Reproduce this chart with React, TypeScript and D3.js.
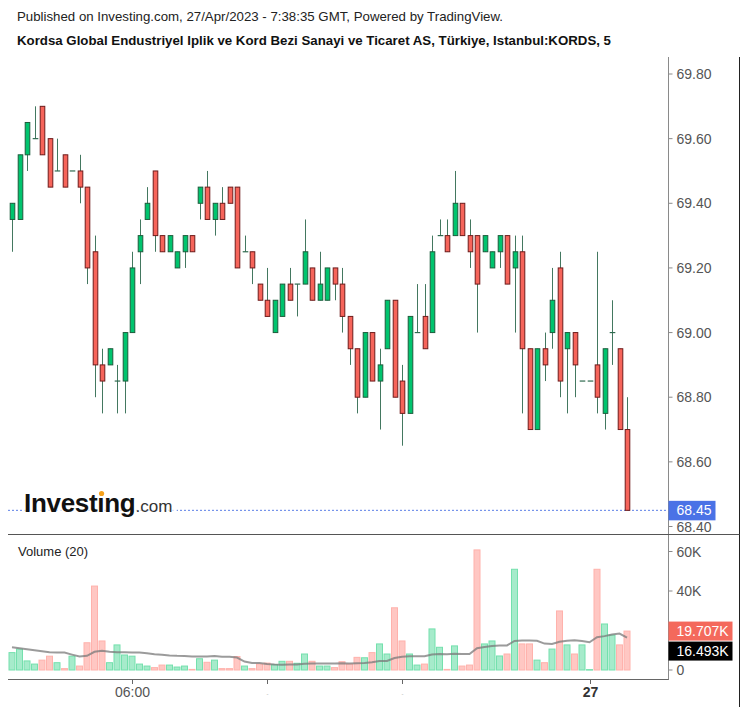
import React from 'react';
import * as d3 from 'd3';

// ---- Data (5-minute bars, KORDS) ----
const opens = [
  69.35, 69.35, 69.55, 69.60, 69.70, 69.60, 69.50, 69.55, 69.50, 69.50,
  69.45, 69.25, 68.90, 68.90, 68.85, 68.85, 69.00, 69.25, 69.35, 69.50,
  69.30, 69.25, 69.20, 69.25, 69.30, 69.40, 69.45, 69.35, 69.40, 69.45,
  69.45, 69.25, 69.25, 69.15, 69.10, 69.00, 69.05, 69.15, 69.15, 69.15,
  69.20, 69.10, 69.10, 69.20, 69.15, 69.05, 68.95, 68.80, 69.00, 68.85,
  68.95, 69.10, 68.85, 68.75, 69.00, 69.05, 69.00, 69.30, 69.30, 69.30,
  69.40, 69.30, 69.30, 69.25, 69.20, 69.25, 69.30, 69.20, 69.25, 68.95,
  68.70, 68.95, 69.00, 69.20, 68.95, 69.00, 68.85, 68.85, 68.90, 68.75,
  69.00, 68.95, 68.70,
];
const highs = [
  69.40, 69.55, 69.65, 69.70, 69.70, 69.60, 69.60, 69.55, 69.50, 69.55,
  69.45, 69.30, 68.95, 68.95, 68.90, 69.00, 69.25, 69.35, 69.45, 69.50,
  69.30, 69.30, 69.25, 69.30, 69.30, 69.45, 69.50, 69.40, 69.45, 69.45,
  69.45, 69.30, 69.25, 69.15, 69.20, 69.10, 69.15, 69.20, 69.15, 69.35,
  69.20, 69.25, 69.20, 69.20, 69.20, 69.05, 68.95, 69.00, 69.00, 68.95,
  69.10, 69.10, 68.90, 69.05, 69.15, 69.15, 69.30, 69.35, 69.35, 69.50,
  69.40, 69.35, 69.30, 69.30, 69.25, 69.30, 69.30, 69.30, 69.30, 68.95,
  68.95, 69.00, 69.20, 69.25, 69.00, 69.00, 68.85, 68.85, 69.25, 68.95,
  69.10, 68.95, 68.80,
];
const lows = [
  69.25, 69.35, 69.50, 69.60, 69.55, 69.45, 69.50, 69.45, 69.50, 69.40,
  69.15, 68.80, 68.75, 68.90, 68.75, 68.75, 69.00, 69.15, 69.35, 69.25,
  69.25, 69.25, 69.20, 69.20, 69.25, 69.35, 69.35, 69.30, 69.35, 69.40,
  69.20, 69.25, 69.15, 69.10, 69.05, 69.00, 69.05, 69.10, 69.05, 69.15,
  69.10, 69.10, 69.10, 69.10, 69.00, 68.90, 68.75, 68.80, 68.85, 68.70,
  68.95, 68.80, 68.65, 68.75, 69.00, 68.95, 69.00, 69.30, 69.25, 69.30,
  69.30, 69.20, 69.00, 69.25, 69.20, 69.20, 69.15, 69.00, 68.75, 68.70,
  68.70, 68.85, 68.95, 68.80, 68.75, 68.80, 68.85, 68.85, 68.75, 68.70,
  68.90, 68.70, 68.45,
];
const closes = [
  69.40, 69.55, 69.65, 69.60, 69.55, 69.45, 69.50, 69.45, 69.50, 69.45,
  69.20, 68.90, 68.85, 68.95, 68.85, 69.00, 69.20, 69.30, 69.40, 69.30,
  69.25, 69.30, 69.25, 69.30, 69.25, 69.45, 69.35, 69.40, 69.35, 69.40,
  69.20, 69.25, 69.20, 69.10, 69.05, 69.10, 69.15, 69.10, 69.15, 69.25,
  69.10, 69.15, 69.20, 69.15, 69.05, 68.95, 68.80, 69.00, 68.85, 68.90,
  69.10, 68.80, 68.75, 69.05, 69.00, 68.95, 69.25, 69.30, 69.25, 69.40,
  69.30, 69.25, 69.15, 69.30, 69.25, 69.30, 69.15, 69.25, 68.95, 68.70,
  68.95, 68.90, 69.10, 68.85, 69.00, 68.90, 68.85, 68.85, 68.80, 68.95,
  69.00, 68.70, 68.45,
];
// volume in thousands
const volumes = [
  8.8, 10.6, 4.6, 3.0, 5.0, 7.0, 3.7, 0.7, 7.0, 2.0,
  13.8, 42.5, 14.7, 3.7, 12.7, 7.6, 7.0, 3.0, 2.0, 1.2,
  2.5, 2.5, 1.5, 2.0, 0.3, 5.7, 3.9, 5.0, 0.7, 0.7,
  6.8, 2.0, 0.7, 3.0, 3.5, 2.7, 4.4, 4.4, 3.4, 8.1,
  4.4, 2.0, 2.0, 1.2, 4.2, 3.0, 6.4, 6.2, 8.8, 13.2,
  8.1, 31.5, 14.7, 8.1, 2.5, 3.0, 20.8, 11.5, 0.3, 12.2,
  2.0, 2.5, 60.8, 13.2, 14.7, 7.1, 8.1, 51.0, 13.2, 13.2,
  5.0, 3.7, 10.6, 29.9, 12.7, 8.1, 12.7, 0.2, 51.0, 23.3,
  17.7, 12.7, 19.707,
];
// MA(20) values of the first bars (they include bars before the visible range)
const volumeMaLead = [
  11.5, 11.0, 10.5, 10.0, 9.5, 9.0, 8.8, 8.8, 7.8, 6.8,
  7.2, 9.2, 9.8, 9.2, 9.0, 9.0, 8.9, 8.8, 8.5,
];
const maLastValue = 16.493;
const lastPrice = 68.45;
const priceTicks = [69.8, 69.6, 69.4, 69.2, 69.0, 68.8, 68.6, 68.4];
const volumeTicks = [0, 20, 40, 60];
const volumeTickLabels = ['0', '', '40K', '60K'];
const timeTickIndex = [16, 34, 52, 77];
const timeTickLabels = ['06:00', '-', '-', '27'];

const FONT = "'Liberation Sans', Arial, Helvetica, sans-serif";

export default function App() {
  const W = 747;
  const H = 707;
  const n = closes.length;
  const x = d3.scaleBand<number>().domain(d3.range(n)).range([8.25, 8.25 + n * 7.5]).padding(0);
  const cx = (i: number) => (x(i) as number) + x.bandwidth() / 2;
  const yP = d3.scaleLinear().domain([68.4, 69.8]).range([526.5, 74]);
  const yV = d3.scaleLinear().domain([0, 60]).range([670, 551.5]);

  const ma = volumes.map((_, i) =>
    i < volumeMaLead.length ? volumeMaLead[i] : (d3.mean(volumes.slice(i - 19, i + 1)) as number)
  );
  const maLine = d3.line<number>().x((_, i) => cx(i)).y((d) => yV(d))(ma) as string;

  const axisX = 668.5;
  const bodyW = 4.6;
  const volW = 6;

  const greenBody = '#00c46e';
  const greenBorder = '#1d5c3c';
  const redBody = '#f6645a';
  const redBorder = '#6e1c1c';
  const wick = '#2f6a4f';

  const lastY = yP(lastPrice);

  // logo metrics
  const logoSize = 26;
  const logoX = 24;
  const logoBase = 511.5;
  const iCenter = logoX + (2.89 + 0.139) * logoSize;

  return (
    <svg
      width={W}
      height={H}
      style={{ position: 'absolute', left: 0, top: 0, background: '#fff' }}
      fontFamily={FONT}
    >
      <rect x={0} y={0} width={W} height={H} fill="#fff" />
      {/* titles */}
      <text x={17} y={21} fontSize={13.5} fill="#222" textLength={486} lengthAdjust="spacingAndGlyphs">
        Published on Investing.com, 27/Apr/2023 - 7:38:35 GMT, Powered by TradingView.
      </text>
      <text x={17} y={45} fontSize={13.5} fontWeight="bold" fill="#111" textLength={594} lengthAdjust="spacingAndGlyphs">
        Kordsa Global Endustriyel Iplik ve Kord Bezi Sanayi ve Ticaret AS, Türkiye, Istanbul:KORDS, 5
      </text>

      {/* last price dotted line */}
      <line x1={8} x2={axisX} y1={lastY} y2={lastY} stroke="#5b7fe6" strokeWidth={1} strokeDasharray="2 2" />

      {/* logo */}
      <rect x={22} y={490} width={155} height={30} fill="#fff" opacity={0.75} />
      <text x={logoX} y={logoBase} fontSize={logoSize} fontWeight="bold" fill="#111" letterSpacing={-0.3}>
        <tspan>Invest</tspan>
        <tspan>ı</tspan>
        <tspan>ng</tspan>
        <tspan fontSize={17} fontWeight="normal" fill="#333" letterSpacing={0}>.com</tspan>
      </text>
      <circle cx={iCenter - 1.2} cy={493.5} r={2.6} fill="#f5a11c" />

      {/* candles */}
      {closes.map((c, i) => {
        const o = opens[i];
        const up = c >= o;
        const top = yP(Math.max(o, c));
        const bot = yP(Math.min(o, c));
        const xc = Math.round(cx(i)) + 0.5;
        return (
          <g key={'c' + i}>
            <line x1={xc} x2={xc} y1={yP(highs[i])} y2={yP(lows[i])} stroke={wick} strokeWidth={1} opacity={0.9} />
            {bot - top < 1 ? (
              <line x1={xc - bodyW / 2 - 0.5} x2={xc + bodyW / 2 + 0.5} y1={top} y2={top} stroke={wick} strokeWidth={1.2} />
            ) : (
              <rect
                x={xc - bodyW / 2}
                y={top}
                width={bodyW}
                height={bot - top}
                fill={up ? greenBody : redBody}
                stroke={up ? greenBorder : redBorder}
                strokeWidth={1}
              />
            )}
          </g>
        );
      })}

      {/* price axis */}
      <line x1={axisX} x2={axisX} y1={57} y2={680} stroke="#8a8a8a" strokeWidth={1} />
      <line x1={739.5} x2={739.5} y1={57} y2={H} stroke="#222" strokeWidth={1} />
      {priceTicks.map((t) => (
        <g key={'pt' + t}>
          <line x1={axisX} x2={axisX + 4} y1={yP(t)} y2={yP(t)} stroke="#8a8a8a" />
          <text x={676.5} y={yP(t)} dy="0.36em" fontSize={14} fill="#555">
            {t.toFixed(2)}
          </text>
        </g>
      ))}
      <rect x={axisX} y={lastY - 9.5} width={47} height={19.5} fill="#4a72e6" />
      <text x={676.5} y={lastY} dy="0.36em" fontSize={14} fill="#fff">
        {lastPrice.toFixed(2)}
      </text>

      {/* pane separator */}
      <line x1={8} x2={739.5} y1={534.5} y2={534.5} stroke="#555" strokeWidth={1} />
      <text x={18} y={556} fontSize={13} fill="#222">
        Volume (20)
      </text>

      {/* volume bars */}
      {volumes.map((v, i) => {
        const up = closes[i] >= opens[i];
        const yTop = yV(v);
        return (
          <rect
            key={'v' + i}
            x={cx(i) - volW / 2}
            y={yTop}
            width={volW}
            height={Math.max(0.5, yV(0) - yTop)}
            fill={up ? '#a6ebcb' : '#ffc7c3'}
            stroke={up ? '#74e0ad' : '#ffb2ac'}
            strokeWidth={1}
          />
        );
      })}
      <path d={maLine} fill="none" stroke="#7a7a7a" strokeOpacity={0.75} strokeWidth={2} />

      {/* volume axis */}
      {volumeTicks.map((t, k) => (
        <g key={'vt' + t}>
          <line x1={axisX} x2={axisX + 4} y1={yV(t)} y2={yV(t)} stroke="#8a8a8a" />
          {volumeTickLabels[k] !== '' && (
            <text x={676.5} y={yV(t)} dy="0.36em" fontSize={14} fill="#555">
              {volumeTickLabels[k]}
            </text>
          )}
        </g>
      ))}
      <rect x={axisX} y={yV(volumes[n - 1]) - 9.5} width={64} height={19} fill="#f4695c" />
      <text x={676.5} y={yV(volumes[n - 1])} dy="0.36em" fontSize={14} fill="#fff">
        {volumes[n - 1].toFixed(3) + 'K'}
      </text>
      <rect x={axisX} y={yV(volumes[n - 1]) + 10.5} width={64} height={19} fill="#000" />
      <text x={676.5} y={yV(volumes[n - 1]) + 20} dy="0.36em" fontSize={14} fill="#fff">
        {maLastValue.toFixed(3) + 'K'}
      </text>

      {/* time axis */}
      <line x1={8} x2={axisX} y1={679.5} y2={679.5} stroke="#666" strokeWidth={1} />
      {timeTickIndex.map((ti, k) => {
        const tx = Math.round(cx(ti)) + 0.5;
        const lab = timeTickLabels[k];
        const small = lab === '-';
        return (
          <g key={'tt' + ti}>
            <line x1={tx} x2={tx} y1={680} y2={684} stroke="#666" />
            <text
              x={tx}
              y={small ? 696 : 697}
              textAnchor="middle"
              fontSize={small ? 6 : 14}
              fontWeight={lab === '27' ? 'bold' : 'normal'}
              fill={small ? '#aaa' : lab === '27' ? '#333' : '#555'}
            >
              {lab}
            </text>
          </g>
        );
      })}
    </svg>
  );
}
